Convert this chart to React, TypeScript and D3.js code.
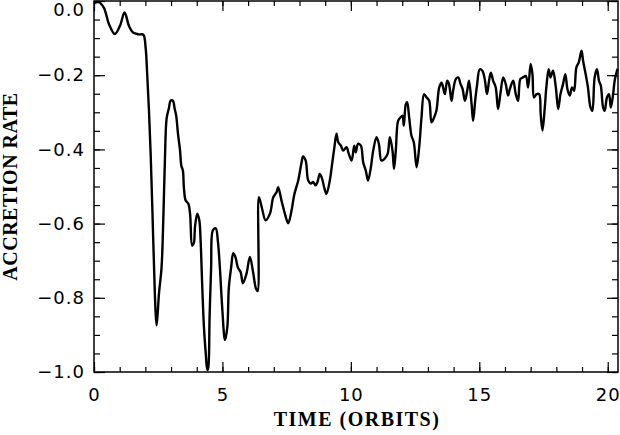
import React, { useEffect, useRef } from "react";
import * as d3 from "d3";

// accretion rate vs time
const time = [
  0.0, 0.19, 0.39, 0.58, 0.81, 1.01, 1.19, 1.36, 1.52, 1.75, 1.92, 2.01, 2.07, 2.14, 2.21, 2.27, 2.33, 2.4, 2.44,
  2.53, 2.63, 2.7, 2.76, 2.83, 2.92, 2.98, 3.07, 3.14, 3.2, 3.27, 3.35, 3.4, 3.46, 3.5, 3.57, 3.67, 3.74, 3.82,
  3.89, 3.93, 4.02, 4.1, 4.15, 4.21, 4.28, 4.35, 4.41, 4.45, 4.5, 4.56, 4.63, 4.74, 4.82, 4.9, 4.99, 5.1, 5.19,
  5.25, 5.34, 5.42, 5.51, 5.6, 5.71, 5.8, 5.94, 6.07, 6.2, 6.3, 6.37, 6.42, 6.53, 6.68, 6.85, 6.98, 7.11, 7.17,
  7.3, 7.43, 7.56, 7.69, 7.79, 7.95, 8.08, 8.14, 8.24, 8.34, 8.44, 8.53, 8.63, 8.7, 8.79, 8.88, 8.96, 9.05, 9.18,
  9.27, 9.35, 9.44, 9.51, 9.61, 9.7, 9.83, 9.92, 10.03, 10.13, 10.19, 10.28, 10.39, 10.48, 10.58, 10.67, 10.78,
  10.87, 11.0, 11.09, 11.19, 11.3, 11.43, 11.52, 11.62, 11.68, 11.75, 11.84, 11.93, 12.01, 12.06, 12.14, 12.19,
  12.27, 12.36, 12.45, 12.56, 12.66, 12.75, 12.85, 12.95, 13.05, 13.14, 13.24, 13.33, 13.44, 13.53, 13.59, 13.66,
  13.75, 13.82, 13.92, 13.98, 14.09, 14.18, 14.27, 14.35, 14.44, 14.53, 14.6, 14.7, 14.76, 14.84, 14.91, 15.02,
  15.12, 15.21, 15.3, 15.38, 15.45, 15.54, 15.64, 15.73, 15.82, 15.93, 16.03, 16.12, 16.19, 16.32, 16.42, 16.51,
  16.6, 16.7, 16.81, 16.9, 17.0, 17.07, 17.13, 17.23, 17.33, 17.39, 17.46, 17.55, 17.61, 17.7, 17.77, 17.87,
  17.98, 18.07, 18.16, 18.26, 18.35, 18.43, 18.52, 18.61, 18.69, 18.78, 18.87, 18.98, 19.04, 19.14, 19.23, 19.33,
  19.4, 19.49, 19.58, 19.66, 19.73, 19.82, 19.88, 19.97, 20.05, 20.12, 20.21, 20.27, 20.36, 20.39,
];
const rate = [
  -0.005, -0.003, -0.019, -0.062, -0.089, -0.067, -0.031, -0.067, -0.085, -0.09, -0.091, -0.126, -0.196, -0.296,
  -0.422, -0.556, -0.699, -0.841, -0.874, -0.788, -0.718, -0.583, -0.43, -0.315, -0.288, -0.269, -0.269, -0.29,
  -0.309, -0.358, -0.403, -0.444, -0.457, -0.503, -0.538, -0.546, -0.573, -0.659, -0.651, -0.61, -0.573, -0.591,
  -0.645, -0.761, -0.879, -0.949, -0.995, -0.987, -0.852, -0.718, -0.618, -0.613, -0.645, -0.718, -0.825, -0.914,
  -0.879, -0.772, -0.718, -0.68, -0.691, -0.718, -0.731, -0.761, -0.734, -0.69, -0.734, -0.774, -0.782, -0.529,
  -0.556, -0.591, -0.573, -0.529, -0.515, -0.502, -0.538, -0.573, -0.599, -0.565, -0.524, -0.484, -0.435, -0.419,
  -0.43, -0.484, -0.492, -0.488, -0.497, -0.488, -0.466, -0.479, -0.502, -0.52, -0.484, -0.439, -0.399, -0.358,
  -0.381, -0.39, -0.403, -0.394, -0.412, -0.43, -0.39, -0.408, -0.385, -0.39, -0.435, -0.457, -0.484, -0.448,
  -0.403, -0.367, -0.385, -0.43, -0.426, -0.412, -0.367, -0.403, -0.452, -0.403, -0.323, -0.314, -0.309, -0.336,
  -0.278, -0.273, -0.314, -0.363, -0.381, -0.448, -0.394, -0.314, -0.251, -0.26, -0.269, -0.327, -0.314, -0.296,
  -0.233, -0.22, -0.233, -0.251, -0.215, -0.224, -0.269, -0.242, -0.21, -0.206, -0.224, -0.237, -0.269, -0.242,
  -0.215, -0.278, -0.323, -0.269, -0.228, -0.184, -0.188, -0.21, -0.251, -0.215, -0.193, -0.215, -0.233, -0.291,
  -0.251, -0.206, -0.224, -0.255, -0.237, -0.215, -0.251, -0.269, -0.21, -0.206, -0.202, -0.233, -0.17, -0.197,
  -0.26, -0.251, -0.251, -0.305, -0.349, -0.287, -0.233, -0.184, -0.206, -0.188, -0.233, -0.291, -0.251, -0.224,
  -0.197, -0.237, -0.255, -0.233, -0.242, -0.179, -0.166, -0.134, -0.161, -0.197, -0.233, -0.287, -0.296, -0.206,
  -0.184, -0.215, -0.228, -0.287, -0.296, -0.26, -0.251, -0.287, -0.251, -0.215, -0.188, -0.183,
];
const xMajor = [0, 5, 10, 15, 20];
const xMinor = d3.range(0, 21, 1);
const yMajor = [0, -0.2, -0.4, -0.6, -0.8, -1.0];
const yMinor = d3.range(0, 21, 1).map((i) => -i * 0.05);

const App = () => {
  const ref = useRef<SVGSVGElement>(null);

  useEffect(() => {
    const width = 620,
      height = 435;
    const left = 94,
      right = 618,
      top = 1,
      bottom = 372;

    const svg = d3.select(ref.current);
    svg.selectAll("*").remove();

    const x = d3.scaleLinear().domain([0, 20.4]).range([left, right]);
    const y = d3.scaleLinear().domain([-1, 0]).range([bottom, top]);

    const tickFont = "'DejaVu Sans', sans-serif";

    // minor ticks, all four sides
    const minor = (g, axis) => {
      g.call(axis).call((s) => s.select(".domain").remove());
    };
    minor(
      svg.append("g").attr("transform", `translate(0,${bottom})`),
      d3.axisBottom(x).tickValues(xMinor).tickSize(-5).tickFormat(() => "")
    );
    minor(
      svg.append("g").attr("transform", `translate(0,${top})`),
      d3.axisTop(x).tickValues(xMinor).tickSize(-5).tickFormat(() => "")
    );
    minor(
      svg.append("g").attr("transform", `translate(${left},0)`),
      d3.axisLeft(y).tickValues(yMinor).tickSize(-6).tickFormat(() => "")
    );
    minor(
      svg.append("g").attr("transform", `translate(${right},0)`),
      d3.axisRight(y).tickValues(yMinor).tickSize(-6).tickFormat(() => "")
    );

    // major ticks
    const xb = svg
      .append("g")
      .attr("transform", `translate(0,${bottom})`)
      .call(d3.axisBottom(x).tickValues(xMajor).tickSize(-10).tickPadding(16).tickFormat(d3.format("d")));
    xb.select(".domain").remove();
    svg
      .append("g")
      .attr("transform", `translate(0,${top})`)
      .call(d3.axisTop(x).tickValues(xMajor).tickSize(-10).tickFormat(() => ""))
      .call((s) => s.select(".domain").remove());

    const yl = svg
      .append("g")
      .attr("transform", `translate(${left},0)`)
      .call(d3.axisLeft(y).tickValues(yMajor).tickSize(-11).tickPadding(9).tickFormat(d3.format(".1f")));
    yl.select(".domain").remove();
    // top label sits lower, as in the original
    yl.selectAll(".tick text").filter((d) => d === 0).attr("y", 9);
    svg
      .append("g")
      .attr("transform", `translate(${right},0)`)
      .call(d3.axisRight(y).tickValues(yMajor).tickSize(-11).tickFormat(() => ""))
      .call((s) => s.select(".domain").remove());

    svg.selectAll(".tick line").attr("stroke", "#000").attr("stroke-width", 1.2);
    svg
      .selectAll(".tick text")
      .attr("fill", "#000")
      .style("font-family", tickFont)
      .style("font-size", "18px")
      .style("letter-spacing", "1px");

    // frame
    svg
      .append("rect")
      .attr("x", left)
      .attr("y", top)
      .attr("width", right - left)
      .attr("height", bottom - top)
      .attr("fill", "none")
      .attr("stroke", "#000")
      .attr("stroke-width", 1.5);

    // curve
    const line = d3
      .line<number>()
      .x((d, i) => x(time[i]))
      .y((d) => y(d))
      .curve(d3.curveCatmullRom.alpha(0.5));
    svg
      .append("path")
      .datum(rate)
      .attr("d", line)
      .attr("fill", "none")
      .attr("stroke", "#000")
      .attr("stroke-width", 2.4)
      .attr("stroke-linejoin", "round");

    // titles
    svg
      .append("text")
      .attr("x", (left + right) / 2 + 1)
      .attr("y", 426)
      .attr("text-anchor", "middle")
      .style("font-family", "'Liberation Serif', serif")
      .style("font-weight", "bold")
      .style("font-size", "20px")
      .style("letter-spacing", "1.5px")
      .text("TIME (ORBITS)");

    svg
      .append("text")
      .attr("transform", `translate(17,${(top + bottom) / 2}) rotate(-90)`)
      .attr("text-anchor", "middle")
      .style("font-family", "'Liberation Serif', serif")
      .style("font-weight", "bold")
      .style("font-size", "20px")
      .style("letter-spacing", "0.5px")
      .text("ACCRETION RATE");

    svg.attr("width", width).attr("height", height);
  }, []);

  return (
    <svg
      ref={ref}
      style={{ position: "absolute", left: 0, top: 0, background: "#fff" }}
    ></svg>
  );
};

export default App;
